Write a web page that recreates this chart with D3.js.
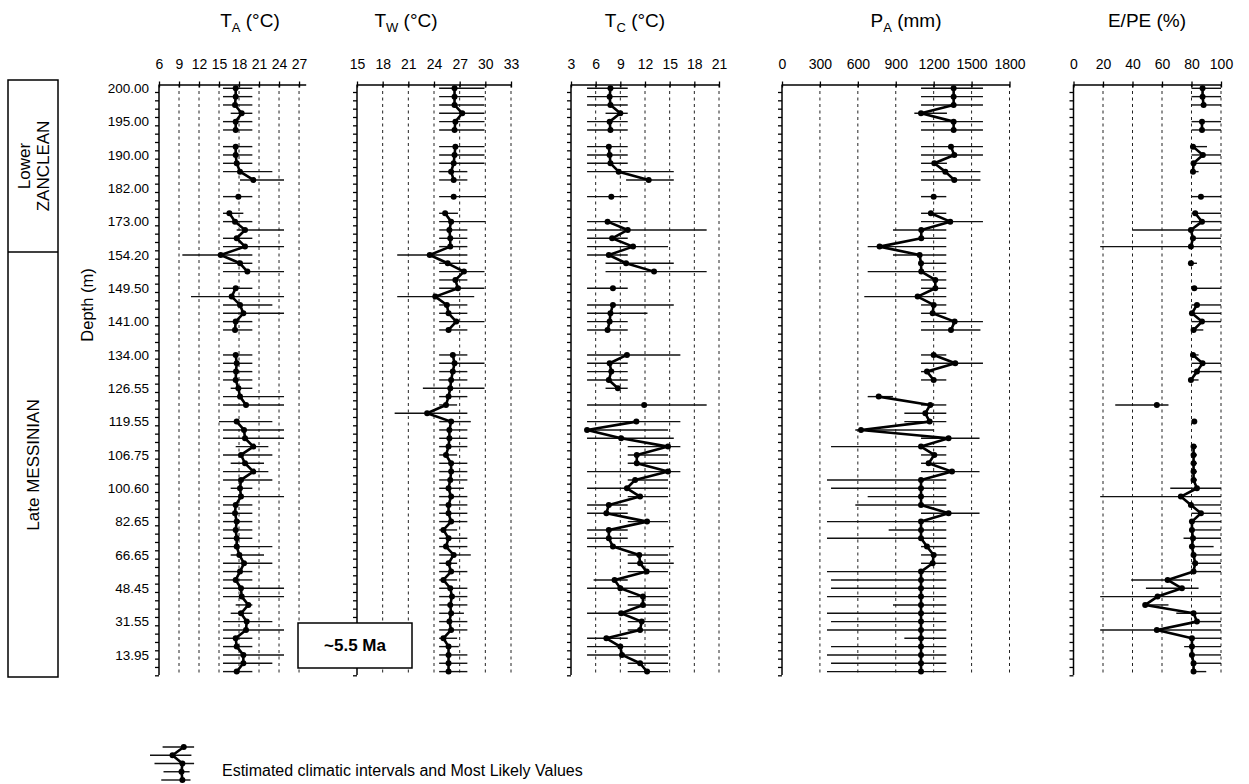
<!DOCTYPE html>
<html><head><meta charset="utf-8">
<script src="https://cdn.jsdelivr.net/npm/d3@7"></script>
<style>body{margin:0;background:#fff}svg{display:block}text{font-family:"Liberation Sans",Arial,sans-serif}</style>
</head><body><svg id="c" width="1249" height="784"></svg>
<script>
const N = 71; // equally spaced samples, top (0) to bottom (70)
const depthLabels = ["200.00","195.00","190.00","182.00","173.00","154.20","149.50","141.00","134.00","126.55","119.55","106.75","100.60","82.65","66.65","48.45","31.55","13.95"];
const _ = null;
// T_A (°C)
const TA_mlv = [17.5,17.5,17.4,18.4,17.5,17.5,_,17.5,17.5,17.65,18.15,20.15,_,17.9,_,16.55,17.4,18.9,17.65,18.9,15.25,18.15,19.25,_,17.5,16.9,18.15,18.65,17.5,17.4,_,_,17.5,17.65,17.55,17.5,17.9,18.15,19.05,_,17.65,18.75,18.9,20.15,18.3,18.9,20.15,18.3,18.15,18.3,17.5,17.4,17.65,17.5,17.65,17.65,18.05,18.75,18.15,17.5,18.3,18.4,19.4,18.3,19.15,19.05,17.5,17.65,18.65,18.65,17.65];
const TA_lo  = [15.6,15.6,15.6,16.75,15.6,15.6,_,15.6,15.6,15.6,15.6,18.15,_,15.6,_,15.6,15.6,17.65,15.6,15.6,9.5,15.6,15.6,_,15.6,10.8,15.6,15.6,15.6,15.6,_,_,15.6,15.6,15.6,15.6,16.75,15.6,15.6,_,15.0,15.6,15.6,17.5,15.6,16.75,15.6,15.6,16.75,15.6,15.6,15.6,15.6,15.6,15.6,15.6,16.75,15.6,15.6,15.6,15.6,15.6,17.5,16.75,15.6,15.6,15.6,15.6,15.6,15.6,15.6];
const TA_hi  = [20,20,20,20,20,20,_,20,20,20,23,24.75,_,20,_,18.65,20,24.75,20,24.75,20,20,24.75,_,20,24.75,23,24.75,20,20,_,_,20,20,20,20,20,24.75,24.75,_,23,24.75,24.75,22.4,23,21.75,22.4,23,20,24.75,20,20,20,20,20,23,21.75,23,20,20,24.75,24.75,20,20,23,24.75,20,20,24.75,23,20];
// T_W (°C)
const TW_mlv = [26.4,26.4,26.4,27.3,26.5,26.4,_,26.5,26.4,26.3,26.0,26.3,_,26.3,_,25.3,26.0,25.8,25.9,25.9,23.5,25.6,27.5,26.5,26.8,24.15,25.5,25.7,26.6,25.7,_,_,26.2,26.4,26.2,26.0,25.9,25.7,25.4,23.2,26.0,25.8,25.8,25.7,25.4,26.0,26.0,25.9,25.7,26.0,25.7,25.7,26.0,25.1,25.7,25.4,26.3,25.7,26.0,25.1,25.9,26.1,25.9,26.0,25.8,26.0,25.1,25.7,25.7,25.7,25.7];
const TW_lo  = [24.6,24.6,24.6,24.6,24.6,24.6,_,24.6,24.6,24.6,24.6,24.6,_,24.6,_,24.6,24.6,24.6,24.6,24.6,19.7,24.6,24.6,24.6,24.6,19.7,24.6,24.6,24.6,24.6,_,_,24.6,24.6,24.6,24.6,22.7,24.6,24.6,19.4,24.6,24.6,24.6,24.6,24.6,24.6,24.6,24.6,24.6,24.6,24.6,24.6,24.6,24.6,24.6,24.6,24.6,24.6,24.6,24.6,24.6,24.6,24.6,24.6,24.6,24.6,24.6,24.6,24.6,24.6,24.6];
const TW_hi  = [29.9,29.9,29.9,29.9,29.9,29.9,_,29.9,29.9,29.9,27.9,27.9,_,30,_,26.8,30,27.9,27.9,27.9,27.9,27.9,29.9,27.9,29.9,28.7,27.9,27.9,29.9,27.9,_,_,27.9,29.9,27.9,27.9,29.9,27.9,26.7,27.9,28.3,27.9,27.9,27.9,26.7,27.9,27.9,27.9,27.5,27.9,27.9,27.9,27.9,26.7,27.9,27.9,28.3,26.7,27.9,26.7,27.9,27.9,27.9,27.5,27.9,27.9,26.7,26.9,27.9,27.9,27.9];
// T_C (°C)
const TC_mlv = [7.8,7.7,7.8,9.0,7.7,7.8,_,7.6,7.7,7.8,8.8,12.45,_,7.9,_,_,7.45,9.9,8.0,10.55,7.6,9.7,13.1,_,8.1,_,8.1,7.8,7.7,7.45,_,_,9.8,7.7,7.9,7.6,8.7,_,11.9,_,10.95,4.95,9.1,14.8,11.0,11.0,14.8,10.8,9.8,11.4,7.6,7.3,12.25,7.6,7.6,8.1,11.3,11.4,12.2,8.3,9.0,11.75,11.75,9.1,11.6,11.4,7.3,9.0,9.2,11.4,12.25];
const TC_lo  = [4.95,4.95,4.95,7.2,4.95,4.95,_,4.95,4.95,4.95,4.95,9.7,_,4.95,_,_,4.95,4.95,4.95,4.95,4.95,7.2,7.2,_,4.95,_,4.95,4.95,4.95,4.95,_,_,4.95,4.95,4.95,4.95,7.2,_,4.95,_,4.95,4.95,4.95,9.9,9.9,9.9,4.95,9.9,4.95,9.9,4.95,4.95,9.9,4.95,4.95,4.95,9.9,9.9,9.9,5.75,4.95,9.9,9.9,4.95,9.9,9.9,4.95,4.95,4.95,9.9,9.9];
const TC_hi  = [9.9,9.9,9.9,9.9,9.9,9.9,_,9.9,9.9,9.9,15.5,15.5,_,9.9,_,_,9.9,19.5,9.9,14.8,9.9,15.5,19.5,_,9.9,_,15.5,12.3,9.9,9.9,_,_,16.3,9.9,9.9,9.9,9.9,_,19.5,_,16.3,14.8,15.5,16.3,14.8,14.8,16.3,14.8,14.8,14.8,9.9,9.9,14.8,9.9,9.9,15.5,14.8,15.5,14.8,9.9,14.8,14.8,14.8,14.8,14.8,14.8,9.9,14.8,14.8,14.8,14.8];
// P_A (mm)
const PA_mlv = [1358,1358,1358,1100,1358,1358,_,1337,1363,1205,1292,1363,_,1200,_,1178,1331,1102,1102,772,1089,1100,1102,1213,1213,1073,1200,1192,1366,1337,_,_,1200,1371,1147,1200,_,765,1173,1134,1168,625,1318,1100,1205,1160,1345,1100,1100,1100,1100,1318,1100,1100,1100,1147,1200,1192,1100,1100,1100,1100,1100,1100,1100,1100,1100,1100,1100,1100,1100];
const PA_lo  = [1100,1100,1100,1047,1100,1100,_,1100,1100,1100,1100,1100,_,1100,_,1100,1100,878,1100,678,878,1100,678,1100,1100,651,1100,1100,1100,1100,_,_,1100,1100,1100,1100,_,678,1100,968,968,580,1100,388,1100,1100,1100,356,388,678,580,1100,356,844,356,1100,1100,1100,356,388,388,356,878,356,388,356,968,388,356,388,356];
const PA_hi  = [1590,1590,1590,1305,1590,1590,_,1590,1590,1305,1570,1570,_,1300,_,1300,1590,1300,1300,1300,1300,1300,1300,1300,1300,1300,1300,1300,1590,1570,_,_,1300,1590,1200,1300,_,878,1300,1300,1300,1200,1563,1300,1300,1300,1563,1300,1300,1300,1300,1563,1300,1300,1300,1300,1300,1300,1300,1300,1300,1300,1300,1300,1300,1300,1300,1300,1300,1300,1300];
// E/PE (%)
const EP_mlv = [87.5,87.5,88.2,_,87.1,87.1,_,81,87.7,81.4,81,_,_,86.4,_,82.5,87.1,79.6,81,79.6,_,79.6,_,_,81.9,_,83.7,80.3,87.1,81.4,_,_,81,87.5,83.7,79.6,_,_,56.5,_,81.9,_,_,81.4,81.4,81.4,81.4,81.4,83.7,72.8,79.6,86.4,80.3,80.3,81,80.3,81.4,82.5,81.4,63.8,73.5,57,48.6,81.4,83.7,56.5,80.3,80.3,80.3,81.4,81.4];
const EP_lo  = [80,80,80,_,80,80,_,80,80,80,80,_,_,80,_,80,80,40,80,18.1,_,79.6,_,_,80,_,80,80,80,80,_,_,80,80,80,79.6,_,_,28.3,_,81,_,_,80,80,80,80,80,65.6,18.1,79.6,80,80,80,74.6,80,80,80,80,39.1,49.1,18.1,48.6,69.7,80,18.1,80,75,80,80,80];
const EP_hi  = [100,100,100,_,100,100,_,90.5,100,100,84.8,_,_,100,_,100,100,100,100,100,_,83.7,_,_,100,_,100,100,100,88,_,_,84.8,100,100,84.8,_,_,64.4,_,83,_,_,83.7,83.7,83.7,83.7,83.7,100,100,100,100,100,100,100,95,100,100,100,79.1,84.8,100,64.4,100,100,100,100,100,100,100,90];

const svg = d3.select("#c");
const y = d3.scaleLinear().domain([0, N - 1]).range([88.3, 671.6]);
const slots = d3.range(N);

const panels = [
  {t:"T", s:"A", u:" (°C)", tx:250, dom:[6,28], rng:[159,305.7], ticks:d3.range(6,28,3), m:TA_mlv, lo:TA_lo, hi:TA_hi},
  {t:"T", s:"W", u:" (°C)", tx:406, dom:[15,33], rng:[357,511], ticks:d3.range(15,34,3), m:TW_mlv, lo:TW_lo, hi:TW_hi},
  {t:"T", s:"C", u:" (°C)", tx:635, dom:[3,21], rng:[571,719], ticks:d3.range(3,22,3), m:TC_mlv, lo:TC_lo, hi:TC_hi},
  {t:"P", s:"A", u:" (mm)", tx:906, dom:[0,1800], rng:[782,1009.5], ticks:d3.range(0,1801,300), m:PA_mlv, lo:PA_lo, hi:PA_hi},
  {t:"E/PE (%)", s:"", u:"", tx:1147, dom:[0,100], rng:[1073.5,1221], ticks:d3.range(0,101,20), m:EP_mlv, lo:EP_lo, hi:EP_hi}
];
const yTop = 84.5, yBot = 675;

panels.forEach((p, pi) => {
  const x = d3.scaleLinear().domain(p.dom).range(p.rng);
  const g = svg.append("g");
  // gridlines
  g.selectAll("line.grid").data(p.ticks.filter(t => t !== p.dom[0])).join("line")
    .attr("x1", d => x(d)).attr("x2", d => x(d)).attr("y1", yTop).attr("y2", yBot)
    .attr("stroke", "#222").attr("stroke-width", 1).attr("stroke-dasharray", "3,3.5");
  // top axis
  const ax = g.append("g").attr("transform", `translate(0,${yTop})`)
    .call(d3.axisTop(x).tickValues(p.ticks).tickFormat(d3.format("d")).tickSize(3).tickSizeOuter(0).tickPadding(13));
  ax.select(".domain").attr("stroke", "#000").attr("stroke-width", 1.3);
  ax.selectAll(".tick line").attr("y1", 3).attr("y2", -3).attr("stroke-width", 1.3);
  ax.selectAll("text").attr("font-size", 14).attr("fill", "#000");
  // left axis
  const ay = g.append("g").attr("transform", `translate(${p.rng[0]},0)`);
  ay.append("line").attr("x1", 0).attr("x2", 0).attr("y1", yTop).attr("y2", yBot).attr("stroke", "#000").attr("stroke-width", 1.5);
  ay.selectAll("line.tk").data(slots).join("line").attr("class", "tk")
    .attr("x1", -4).attr("x2", 0).attr("y1", d => y(d) + 4.2).attr("y2", d => y(d) + 4.2)
    .attr("stroke", "#000").attr("stroke-width", 1.3);
  if (pi === 0) {
    ay.selectAll("text").data(depthLabels).join("text")
      .attr("x", -10).attr("y", (d, i) => y(i * 4)).attr("dy", "0.35em")
      .attr("text-anchor", "end").attr("font-size", 13.5).text(d => d);
  }
  // title
  const tt = g.append("text").attr("x", p.tx).attr("y", 27).attr("text-anchor", "middle").attr("font-size", 19);
  tt.append("tspan").text(p.t);
  if (p.s) { tt.append("tspan").attr("font-size", 13).attr("dy", 5).text(p.s); tt.append("tspan").attr("dy", -5).text(p.u); }
  // data
  const rows = slots.map(i => ({i, m:p.m[i], lo:p.lo[i], hi:p.hi[i]}));
  const def = rows.filter(d => d.m != null);
  g.selectAll("line.iv").data(def).join("line")
    .attr("x1", d => x(d.lo)).attr("x2", d => x(d.hi)).attr("y1", d => y(d.i)).attr("y2", d => y(d.i))
    .attr("stroke", "#111").attr("stroke-width", 1.4);
  g.append("path").datum(rows)
    .attr("d", d3.line().defined(d => d.m != null).x(d => x(d.m)).y(d => y(d.i)))
    .attr("fill", "none").attr("stroke", "#000").attr("stroke-width", 2.6).attr("stroke-linejoin", "round");
  g.selectAll("circle").data(def).join("circle")
    .attr("cx", d => x(d.m)).attr("cy", d => y(d.i)).attr("r", 3).attr("fill", "#000");
});

// Depth axis title
svg.append("text").attr("transform", "translate(93,305) rotate(-90)").attr("text-anchor", "middle")
  .attr("font-size", 16.5).text("Depth (m)");
// stratigraphic column
svg.append("rect").attr("x", 8).attr("y", 80).attr("width", 50).attr("height", 597).attr("fill", "none").attr("stroke", "#000").attr("stroke-width", 1.5);
svg.append("line").attr("x1", 8).attr("x2", 58).attr("y1", 252).attr("y2", 252).attr("stroke", "#000").attr("stroke-width", 1.5);
const z = svg.append("text").attr("transform", "translate(33,166) rotate(-90)").attr("text-anchor", "middle").attr("font-size", 17);
z.append("tspan").attr("x", 0).attr("dy", "-0.15em").text("Lower");
z.append("tspan").attr("x", 0).attr("dy", "1.1em").text("ZANCLEAN");
svg.append("text").attr("transform", "translate(39,465) rotate(-90)").attr("text-anchor", "middle").attr("font-size", 17).text("Late MESSINIAN");
// age box
svg.append("rect").attr("x", 298).attr("y", 623).attr("width", 114).attr("height", 45).attr("fill", "#fff").attr("stroke", "#000").attr("stroke-width", 1.5);
svg.append("text").attr("x", 355).attr("y", 651).attr("text-anchor", "middle").attr("font-size", 17).attr("font-weight", "bold").text("~5.5 Ma");

// legend
const lg = svg.append("g");
const legX = d3.scaleLinear().domain([0, 1]).range([150, 195]);
const legRows = [{i:0, lo:0.28, hi:0.98, m:0.75}, {i:1, lo:0, hi:0.92, m:0.5}, {i:2, lo:0.1, hi:0.98, m:0.72}, {i:3, lo:0.3, hi:0.88, m:0.7}, {i:4, lo:0.25, hi:0.9, m:0.72}];
const legY = d3.scaleLinear().domain([0, 4]).range([747, 780]);
lg.selectAll("line").data(legRows).join("line").attr("x1", d => legX(d.lo)).attr("x2", d => legX(d.hi))
  .attr("y1", d => legY(d.i)).attr("y2", d => legY(d.i)).attr("stroke", "#111").attr("stroke-width", 1.4);
lg.append("path").datum(legRows).attr("d", d3.line().x(d => legX(d.m)).y(d => legY(d.i))).attr("fill", "none").attr("stroke", "#000").attr("stroke-width", 2.6);
lg.selectAll("circle").data(legRows).join("circle").attr("cx", d => legX(d.m)).attr("cy", d => legY(d.i)).attr("r", 3);
svg.append("text").attr("x", 222).attr("y", 776).attr("font-size", 16).text("Estimated climatic intervals and Most Likely Values");
</script></body></html>
